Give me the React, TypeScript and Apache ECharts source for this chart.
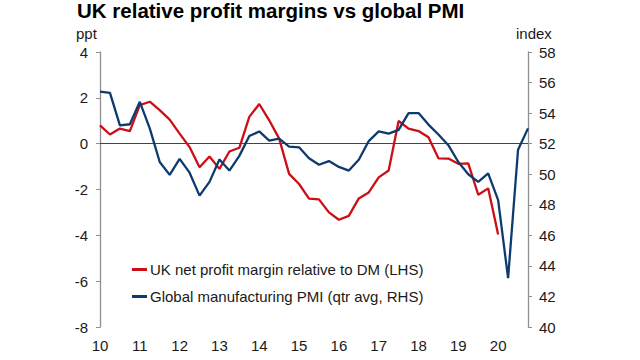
import React, { useEffect, useRef } from "react";
import * as echarts from "echarts";

const years = ["10", "11", "12", "13", "14", "15", "16", "17", "18", "19", "20"];
const quarters = ["Q1", "Q2", "Q3", "Q4"];
const categories: string[] = [];
years.forEach((y) => quarters.forEach((q) => categories.push(y + " " + q)));

const ukMargin: (number | null)[] = [
  0.8, 0.4, 0.66, 0.55, 1.68, 1.83, 1.46, 1.05, 0.44, -0.15, -1.03, -0.56,
  -1.1, -0.34, -0.18, 1.17, 1.73, 1.02, 0.22, -1.32, -1.76, -2.4, -2.43, -3.0,
  -3.32, -3.15, -2.39, -2.13, -1.47, -1.17, 0.99, 0.66, 0.55, 0.28, -0.64, -0.65,
  -0.88, -0.86, -2.23, -1.95, -3.96, null, null, null,
];

const globalPmi: number[] = [
  55.4, 55.33, 53.2, 53.27, 54.74, 53.0, 50.8, 49.96, 51.0, 50.1, 48.6, 49.5,
  50.96, 50.24, 51.2, 52.5, 52.8, 52.2, 52.33, 51.8, 51.76, 51.05, 50.62, 50.86,
  50.48, 50.24, 50.95, 52.17, 52.8, 52.66, 52.9, 54.0, 54.0, 53.25, 52.6, 51.9,
  50.8, 50.0, 49.5, 50.05, 48.3, 43.2, 51.6, 53.0,
];

const seriesNames = [
  "UK net profit margin relative to DM (LHS)",
  "Global manufacturing PMI (qtr avg, RHS)",
];
const titleText = "UK relative profit margins vs global PMI";

const RED = "#cc0e16";
const BLUE = "#0d3b6e";
const FONT = "Liberation Sans, Arial, sans-serif";

export default function App() {
  const ref = useRef<HTMLDivElement>(null);
  useEffect(() => {
    if (!ref.current) return;
    const chart = echarts.init(ref.current, null, { renderer: "svg" });
    chart.setOption({
      animation: false,
      backgroundColor: "#ffffff",
      textStyle: { fontFamily: FONT },
      graphic: [
        {
          type: "text",
          left: 77,
          top: 0,
          style: {
            text: titleText,
            font: "bold 20.5px " + FONT,
            fill: "#000000",
          },
        },
        {
          type: "text",
          left: 76,
          top: 26,
          style: { text: "ppt", font: "15px " + FONT, fill: "#1a1a1a" },
        },
        {
          type: "text",
          left: 516,
          top: 26,
          style: { text: "index", font: "15px " + FONT, fill: "#1a1a1a" },
        },
      ],
      grid: { left: 100, right: 112, top: 52, bottom: 33, containLabel: false },
      legend: {
        orient: "vertical",
        left: 127,
        top: 257,
        itemWidth: 15,
        itemHeight: 3,
        itemGap: 12,
        icon: "rect",
        textStyle: { fontSize: 15, color: "#1a1a1a", fontFamily: FONT, padding: [0, 0, 0, -2] },
        data: seriesNames,
      },
      xAxis: {
        type: "category",
        data: categories,
        boundaryGap: false,
        axisLine: { show: false },
        axisTick: { show: false },
        axisLabel: {
          interval: (i: number) => i % 4 === 0,
          formatter: (v: string) => v.split(" ")[0],
          fontSize: 15,
          color: "#1a1a1a",
          margin: 11,
          fontFamily: FONT,
        },
        splitLine: { show: false },
      },
      yAxis: [
        {
          type: "value",
          min: -8,
          max: 4,
          interval: 2,
          position: "left",
          axisLine: { show: true, lineStyle: { color: "#8f8f8f", width: 1.3 } },
          axisTick: { show: true, length: 4, lineStyle: { color: "#8f8f8f" } },
          axisLabel: { fontSize: 15, color: "#1a1a1a", margin: 12, fontFamily: FONT },
          splitLine: { show: false },
        },
        {
          type: "value",
          min: 40,
          max: 58,
          interval: 2,
          position: "right",
          axisLine: { show: true, lineStyle: { color: "#8f8f8f", width: 1.3 } },
          axisTick: { show: true, length: 4, lineStyle: { color: "#8f8f8f" } },
          axisLabel: { fontSize: 15, color: "#1a1a1a", margin: 11, fontFamily: FONT },
          splitLine: { show: false },
        },
      ],
      series: [
        {
          name: seriesNames[0],
          type: "line",
          yAxisIndex: 0,
          data: ukMargin,
          symbol: "none",
          color: RED,
          lineStyle: { color: RED, width: 2.3 },
          z: 3,
          markLine: {
            silent: true,
            symbol: "none",
            label: { show: false },
            lineStyle: { color: "#444444", width: 1, type: "solid" },
            data: [{ yAxis: 0 }],
            z: 1,
          },
        },
        {
          name: seriesNames[1],
          type: "line",
          yAxisIndex: 1,
          data: globalPmi,
          symbol: "none",
          color: BLUE,
          lineStyle: { color: BLUE, width: 2.3 },
          z: 4,
        },
      ],
    });
    return () => chart.dispose();
  }, []);
  return <div ref={ref} style={{ width: 640, height: 360, position: "absolute", left: 0, top: 0 }} />;
}
